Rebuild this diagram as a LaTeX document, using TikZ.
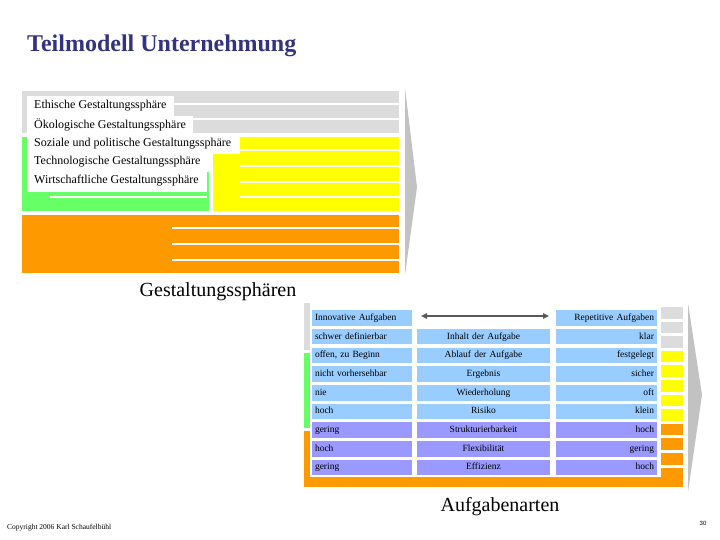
\documentclass[tikz,border=0pt]{standalone}
\usepackage{fontspec}
\setmainfont{Liberation Serif}
\setsansfont{Liberation Sans}
\usetikzlibrary{arrows.meta}

\definecolor{sphgray}{HTML}{DCDCDC}
\definecolor{sphgreen}{HTML}{66FF66}
\definecolor{sphyellow}{HTML}{FFFF00}
\definecolor{sphorange}{HTML}{FF9900}
\definecolor{cellblue}{HTML}{99CCFF}
\definecolor{celllila}{HTML}{9999FF}
\definecolor{titleblue}{HTML}{333380}
\definecolor{chevgray}{HTML}{C2C2C2}

\tikzset{
	sepline/.style={white, line width=2.5pt},
	sphlabel/.style={anchor=west, inner sep=0pt, font=\fontsize{12}{14}\selectfont},
	cell/.style={fill=#1, minimum height=15.5pt, inner ysep=0pt, inner xsep=3pt,
		text height=6.6pt, text depth=1.9pt, font=\fontsize{9.5}{11}\selectfont},
	lcell/.style={text width=94pt, align=left},
	mcell/.style={text width=127pt, align=center},
	rcell/.style={text width=95pt, align=right},
	caption/.style={inner sep=0pt, font=\fontsize{20}{24}\selectfont}
}

\begin{document}
\begin{tikzpicture}[x=1pt, y=-1pt]
		\useasboundingbox (0,0) rectangle (720,540);
		
		% Title
		\node[anchor=west, inner sep=0pt, text=titleblue, font=\fontsize{24}{28}\selectfont\bfseries] (title) at (27,46) {Teilmodell Unternehmung};
		
		% Spheres: coloured bands
		\fill[sphgray] (22,91) rectangle (399,133);
		\fill[sphgreen] (22,137) rectangle (209,211);
		\fill[sphyellow] (213,137) rectangle (399,211);
		\fill[sphorange] (22,215) rectangle (399,273);
		
		% Separating lines
		\draw[sepline] (173,104) -- (399,104);
		\draw[sepline] (193,119) -- (399,119);
		\foreach \y in {150,166,182,197}
		\draw[sepline] (240,\y) -- (399,\y);
		\draw[sepline] (50,197) -- (207,197);
		\foreach \y in {228,244,260}
		\draw[sepline] (172,\y) -- (399,\y);
		
		% White label boxes
		\fill[white] (27,96) rectangle (174,116);
		\fill[white] (27,116) rectangle (193,135);
		\fill[white] (27,135) rectangle (240,154);
		\fill[white] (27,154) rectangle (212,172);
		\fill[white] (27,172) rectangle (207,192);
		
		\node[sphlabel] (ethik) at (34,106) {Ethische Gestaltungssphäre};
		\node[sphlabel] (oeko) at (34,125) {Ökologische Gestaltungssphäre};
		\node[sphlabel] (sozial) at (34,144) {Soziale und politische Gestaltungssphäre};
		\node[sphlabel] (techno) at (34,162) {Technologische Gestaltungssphäre};
		\node[sphlabel] (wirt) at (34,181) {Wirtschaftliche Gestaltungssphäre};
		
		% Chevron
		\fill[chevgray] (405,88) -- (417,187) -- (405,275) -- cycle;
		
		\node[caption] (gest) at (218,292) {Gestaltungssphären};
		
		% Task types: frame strips
		\fill[sphgray] (304,303) rectangle (310,350);
		\fill[sphgreen] (304,353) rectangle (310,428);
		\fill[sphorange] (304,431) rectangle (310,487);
		\fill[sphorange] (304,477) rectangle (683,487);
		\foreach \k/\c in {0/sphgray,1/sphgray,2/sphgray,3/sphyellow,4/sphyellow,5/sphyellow,6/sphyellow,7/sphyellow,8/sphorange,9/sphorange,10/sphorange}
		\fill[\c] (661,307+14.6*\k) rectangle (683,318.5+14.6*\k);
		\fill[sphorange] (661,468) rectangle (683,487);
		\fill[white] (310,303) rectangle (661,477);
		
		% Chevron
		\fill[chevgray] (688,303) -- (702,395) -- (688,492) -- cycle;
		
		% Table
		\node[cell=cellblue, lcell] (l1) at (362,318) {Innovative Aufgaben};
		\node[cell=cellblue, rcell] (r1) at (606.5,318) {Repetitive Aufgaben};
		\coordinate (arL) at (421,316);
		\coordinate (arR) at (549,316);
		\draw[{Triangle[length=6pt,width=5.5pt]}-{Triangle[length=6pt,width=5.5pt]}, line width=2pt, black!65] (arL) -- (arR);
		
		\foreach \i/\lt/\mt/\rt/\c in {
			2/{schwer definierbar}/{Inhalt der Aufgabe}/{klar}/cellblue,
			3/{offen, zu Beginn}/{Ablauf der Aufgabe}/{festgelegt}/cellblue,
			4/{nicht vorhersehbar}/{Ergebnis}/{sicher}/cellblue,
			5/{nie}/{Wiederholung}/{oft}/cellblue,
			6/{hoch}/{Risiko}/{klein}/cellblue,
			7/{gering}/{Strukturierbarkeit}/{hoch}/celllila,
			8/{hoch}/{Flexibilität}/{gering}/celllila,
			9/{gering}/{Effizienz}/{hoch}/celllila}{
			\pgfmathsetmacro\yc{318+18.7*(\i-1)}
			\node[cell=\c, lcell] (l\i) at (362,\yc) {\lt};
			\node[cell=\c, mcell] (m\i) at (483.5,\yc) {\mt};
			\node[cell=\c, rcell] (r\i) at (606.5,\yc) {\rt};
		}
		
		\node[caption] (aufg) at (500,507) {Aufgabenarten};
		
		% Footer
		\node[anchor=west, inner sep=0pt, font=\fontsize{7.5}{9}\selectfont] (copy) at (7,528) {Copyright 2006 Karl Schaufelbühl};
		\node[inner sep=0pt, font=\sffamily\fontsize{6}{7}\selectfont] (page) at (703,523) {30};
		
	\end{tikzpicture}
\end{document}
